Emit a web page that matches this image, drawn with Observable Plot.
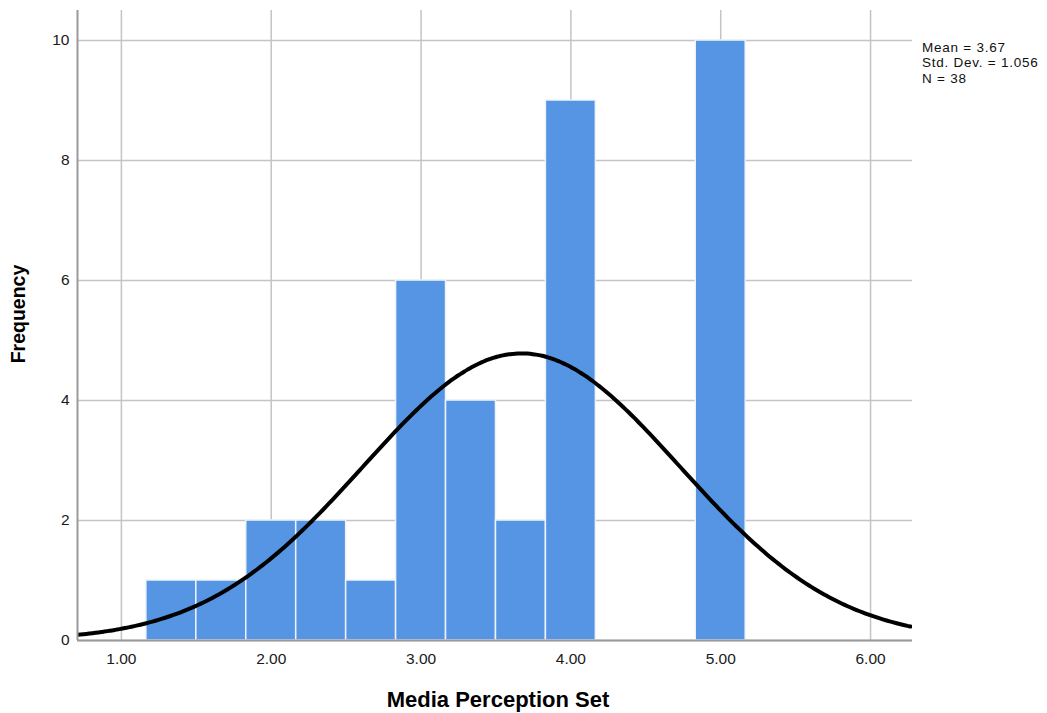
<!DOCTYPE html>
<html>
<head>
<meta charset="utf-8">
<script src="https://cdn.jsdelivr.net/npm/d3@7"></script>
<script src="https://cdn.jsdelivr.net/npm/@observablehq/plot@0.6"></script>
<style>
  html, body { margin: 0; padding: 0; background: #fff; }
  #chart { width: 1047px; height: 713px; }
  svg { font-family: "Liberation Sans", Arial, sans-serif; }
</style>
</head>
<body>
<div id="chart"></div>
<script>
// Histogram bins (left edges) and counts
const binStarts = [1.1667, 1.5, 1.8333, 2.1667, 2.5, 2.8333, 3.1667, 3.5, 3.8333, 4.1667, 4.5, 4.8333];
const binWidth = 1 / 3;
const counts = [1, 1, 2, 2, 1, 6, 4, 2, 9, 0, 0, 10];
const xTicks = [1, 2, 3, 4, 5, 6];
const yTicks = [0, 2, 4, 6, 8, 10];
const statLines = ["Mean = 3.67", "Std. Dev. = 1.056", "N = 38"];
const mean = 3.67, sd = 1.056, n = 38;

const bars = binStarts.map((s, i) => ({x1: s, x2: s + binWidth, y: counts[i]})).filter(d => d.y > 0);

const xDomain = [0.707, 6.28];
// Fitted normal curve from the stated Mean / Std. Dev. / N
const curve = d3.range(xDomain[0], xDomain[1] + 0.001, 0.02).map(x => ({
  x,
  y: n * binWidth / (sd * Math.sqrt(2 * Math.PI)) * Math.exp(-0.5 * ((x - mean) / sd) ** 2)
}));

const plot = Plot.plot({
  width: 1047,
  height: 713,
  marginLeft: 77,
  marginRight: 135,
  marginTop: 10,
  marginBottom: 73,
  style: {fontFamily: "'Liberation Sans', Arial, sans-serif", fontSize: "15.5px", color: "#1a1a1a"},
  x: {domain: xDomain, label: null},
  y: {domain: [0, 10.5], label: null},
  marks: [
    Plot.gridX(xTicks, {stroke: "#c4c4c4", strokeOpacity: 1, strokeWidth: 1.5}),
    Plot.gridY(yTicks, {stroke: "#c4c4c4", strokeOpacity: 1, strokeWidth: 1.5}),
    Plot.rectY(bars, {x1: "x1", x2: "x2", y: "y", fill: "#5595e3", stroke: "#eef3fb", strokeWidth: 1.5}),
    Plot.line(curve, {x: "x", y: "y", stroke: "#000", strokeWidth: 4, curve: "basis", clip: true}),
    Plot.ruleX([xDomain[0]], {stroke: "#9a9a9a", strokeWidth: 2}),
    Plot.ruleY([0], {stroke: "#9a9a9a", strokeWidth: 2}),
    Plot.axisX(xTicks, {tickFormat: d => d.toFixed(2), tickSize: 0, tickPadding: 12, fontSize: 15.5, label: null}),
    Plot.axisY(yTicks, {tickFormat: d => String(d), tickSize: 0, tickPadding: 8, fontSize: 15.5, label: null})
  ]
});

const svg = d3.select(plot);
// Axis titles
svg.append("text")
  .attr("x", 498).attr("y", 707)
  .attr("text-anchor", "middle")
  .attr("font-size", 22).attr("font-weight", "bold").attr("fill", "#000")
  .text("Media Perception Set");
svg.append("text")
  .attr("transform", "translate(25,314) rotate(-90)")
  .attr("text-anchor", "middle")
  .attr("font-size", 19.5).attr("font-weight", "bold").attr("fill", "#000")
  .text("Frequency");
// Stats box
statLines.forEach((t, i) => {
  svg.append("text")
    .attr("x", 922).attr("y", 52 + i * 15.3)
    .attr("font-size", 13.5).attr("letter-spacing", "0.75px")
    .attr("fill", "#111").attr("text-anchor", "start")
    .text(t);
});

document.getElementById("chart").appendChild(plot);
</script>
</body>
</html>
